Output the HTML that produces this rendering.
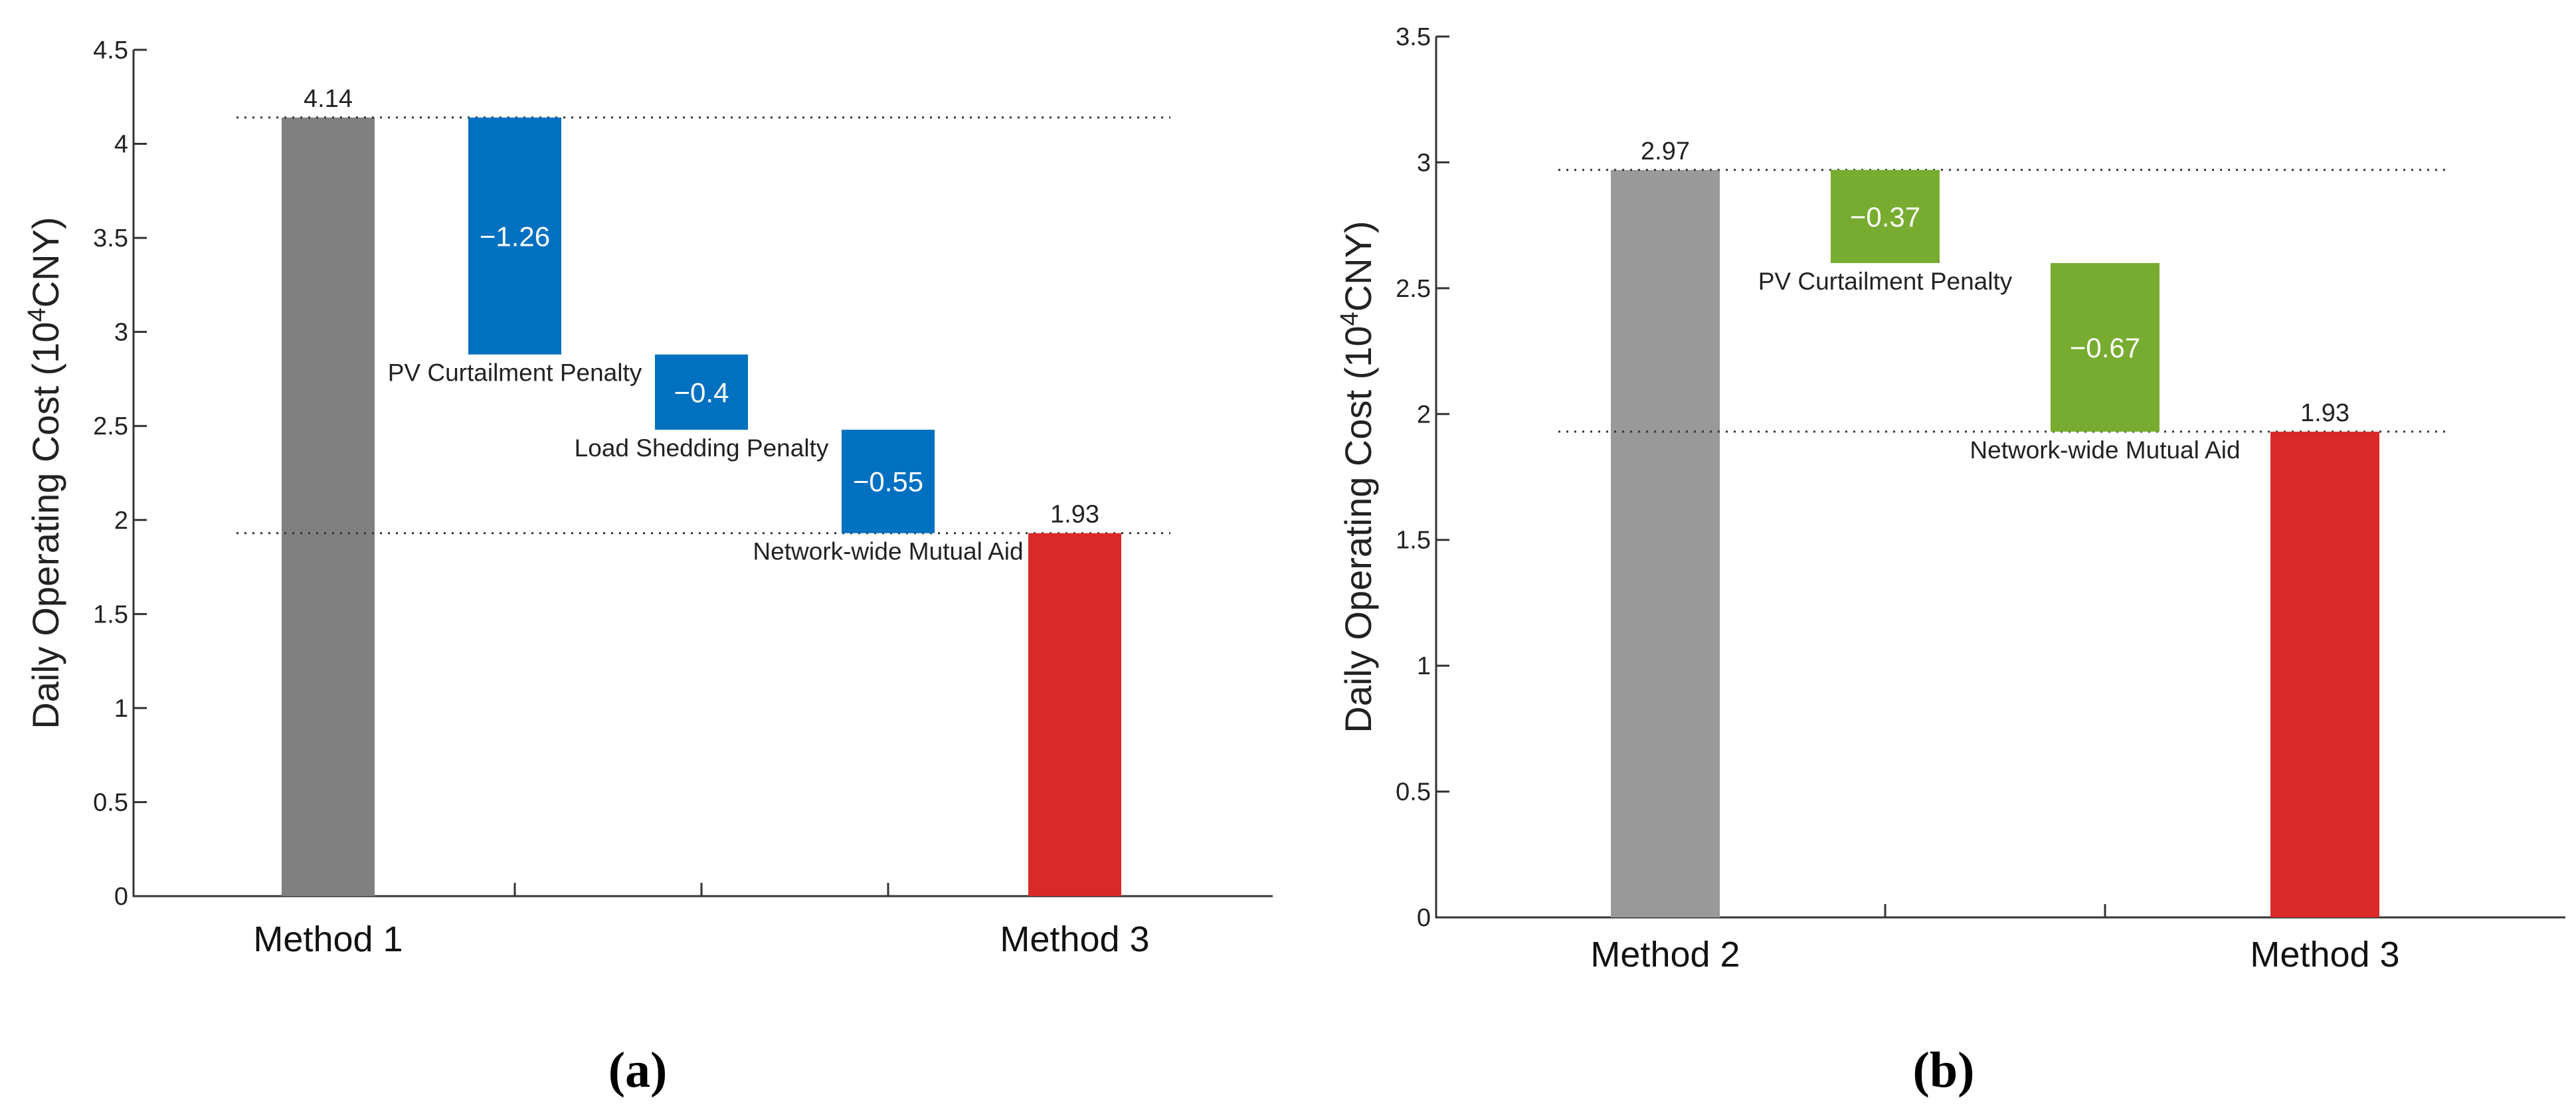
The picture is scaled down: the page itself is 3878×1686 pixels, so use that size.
<!DOCTYPE html>
<html><head><meta charset="utf-8">
<style>
html,body{margin:0;padding:0;background:#fff;}
svg{display:block;}
text{font-family:"Liberation Sans",Arial,sans-serif;}
</style></head>
<body>
<svg id="fig" width="3878" height="1686" viewBox="0 0 3878 1686" xmlns="http://www.w3.org/2000/svg">
<rect width="3878" height="1686" fill="#fff"/>
<g id="chartA"></g>
<g id="chartB"></g>
<text x="960" y="1636" text-anchor="middle" font-size="76" font-weight="bold" style="font-family:'Liberation Serif',serif">(a)</text>
<text x="2926" y="1636" text-anchor="middle" font-size="76" font-weight="bold" style="font-family:'Liberation Serif',serif">(b)</text>
</svg>
<script>
// Chart A data
const catsA = ["Method 1", "PV Curtailment Penalty", "Load Shedding Penalty", "Network-wide Mutual Aid", "Method 3"];
const startA = 4.14;
const deltasA = [-1.26, -0.4, -0.55];
const endA = 1.93;
const ticksA = [0, 0.5, 1, 1.5, 2, 2.5, 3, 3.5, 4, 4.5];
const tickLabelsA = ["0", "0.5", "1", "1.5", "2", "2.5", "3", "3.5", "4", "4.5"];
// Chart B data
const catsB = ["Method 2", "PV Curtailment Penalty", "Network-wide Mutual Aid", "Method 3"];
const startB = 2.97;
const deltasB = [-0.37, -0.67];
const endB = 1.93;
const ticksB = [0, 0.5, 1, 1.5, 2, 2.5, 3, 3.5];
const tickLabelsB = ["0", "0.5", "1", "1.5", "2", "2.5", "3", "3.5"];

const NS = "http://www.w3.org/2000/svg";
function mk(tag, attrs, parent){
  const e = document.createElementNS(NS, tag);
  for (const k in attrs) e.setAttribute(k, attrs[k]);
  parent.appendChild(e);
  return e;
}

function draw(g, cfg, cats, start, deltas, end, ticks, tickLabels){
  const yScale = v => cfg.y0 - (v - 0) * (cfg.y0 - cfg.yTop) / (cfg.yMax - 0);
  const xScale = i => cfg.c0 + i * cfg.step;
  const hw = cfg.barW / 2;
  const ax = mk('line', {x1:cfg.ax, y1:cfg.yTop, x2:cfg.ax, y2:cfg.y0+1, stroke:'#333', 'stroke-width':3}, g);
  
  
  const bx = mk('line', {x1:cfg.ax-1, y1:cfg.y0, x2:cfg.axEnd, y2:cfg.y0, stroke:'#333', 'stroke-width':3}, g);
  
  
  ticks.forEach((t, i) => {
    const y = yScale(t);
    const tl = mk('line', {x1:cfg.ax, y1:y, x2:cfg.ax+20, y2:y, stroke:'#333', 'stroke-width':3}, g);
    
    
    const tx = mk('text', {x:cfg.ax-8, y:y+13, 'text-anchor':'end', 'font-size':38, fill:'#222'}, g);
    tx.textContent = tickLabels[i];
    
    
  });
  for (let i = 1; i <= deltas.length; i++) {
    const x = xScale(i);
    const ct = mk('line', {x1:x, y1:cfg.y0, x2:x, y2:cfg.y0-20, stroke:'#333', 'stroke-width':3}, g);
    
    
  }
  const yt = mk('text', {x:0, y:0, 'text-anchor':'middle', 'font-size':56, fill:'#222',
    transform:`translate(${cfg.titleX},${(cfg.yTop+cfg.y0)/2}) rotate(-90)`}, g);
  
  
  yt.innerHTML = 'Daily Operating Cost (10<tspan dy="-20" font-size="38">4</tspan><tspan dy="20">CNY)</tspan>';
  const x0 = xScale(0);
  const sb = mk('rect', {x:x0-hw, y:yScale(start), width:cfg.barW, height:yScale(0)-yScale(start), fill:cfg.startColor}, g);
  
  
  const sl = mk('text', {x:x0, y:yScale(start)-16, 'text-anchor':'middle', 'font-size':38, fill:'#222'}, g);
  sl.textContent = start.toFixed(2);
  
  
  [start, end].forEach(v => {
    const dl = mk('line', {x1:cfg.dotX1, y1:yScale(v), x2:cfg.dotX2, y2:yScale(v), stroke:'#333', 'stroke-width':3, 'stroke-dasharray':'3 9'}, g);
    
    
  });
  let cur = start;
  deltas.forEach((d, i) => {
    const x = xScale(i+1);
    const top = yScale(cur), bot = yScale(cur + d);
    const r = mk('rect', {x:x-hw, y:top, width:cfg.barW, height:bot-top, fill:cfg.deltaColor}, g);
    
    
    const vt = mk('text', {x:x, y:(top+bot)/2+15, 'text-anchor':'middle', 'font-size':42, fill:'#fff'}, g);
    vt.textContent = '\u2212' + Math.abs(d);
    
    
    const lt = mk('text', {x:x, y:bot+40, 'text-anchor':'middle', 'font-size':37, fill:'#222'}, g);
    lt.textContent = cats[i+1];
    
    
    cur += d;
  });
  const xe = xScale(deltas.length+1);
  const eb = mk('rect', {x:xe-hw, y:yScale(end), width:cfg.barW, height:yScale(0)-yScale(end), fill:'#D92929'}, g);
  
  
  const el = mk('text', {x:xe, y:yScale(end)-16, 'text-anchor':'middle', 'font-size':38, fill:'#222'}, g);
  el.textContent = end.toFixed(2);
  
  
  [[0, cats[0]], [deltas.length+1, cats[cats.length-1]]].forEach(([i, name]) => {
    const ml = mk('text', {x:xScale(i), y:cfg.catY, 'text-anchor':'middle', 'font-size':54, fill:'#111'}, g);
    ml.textContent = name;
    
    
  });
}

draw(document.getElementById('chartA'),
  {ax:201, axEnd:1916, y0:1349, yTop:75, yMax:4.5, c0:494, step:281, barW:140,
   dotX1:356, dotX2:1762, titleX:88, catY:1432, startColor:'#808080', deltaColor:'#0070C0'},
  catsA, startA, deltasA, endA, ticksA, tickLabelsA);
draw(document.getElementById('chartB'),
  {ax:2162, axEnd:3862, y0:1381, yTop:55, yMax:3.5, c0:2507, step:331, barW:164,
   dotX1:2346, dotX2:3681, titleX:2064, catY:1455, startColor:'#999999', deltaColor:'#77AC30'},
  catsB, startB, deltasB, endB, ticksB, tickLabelsB);
</script>
</body></html>
